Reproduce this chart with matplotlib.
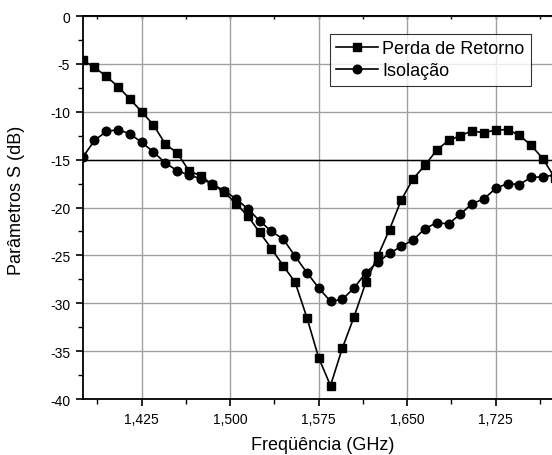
import numpy as np
import matplotlib
matplotlib.use('Agg')
import matplotlib.pyplot as plt
from matplotlib.ticker import MultipleLocator, FuncFormatter

plt.rcParams['font.family'] = ['Liberation Sans', 'DejaVu Sans']
plt.rcParams['axes.unicode_minus'] = False

# Frequency sweep (GHz), 10 MHz steps
freq = [1.375, 1.385, 1.395, 1.405, 1.415, 1.425, 1.435, 1.445, 1.455, 1.465,
        1.475, 1.485, 1.495, 1.505, 1.515, 1.525, 1.535, 1.545, 1.555, 1.565,
        1.575, 1.585, 1.595, 1.605, 1.615, 1.625, 1.635, 1.645, 1.655, 1.665,
        1.675, 1.685, 1.695, 1.705, 1.715, 1.725, 1.735, 1.745, 1.755, 1.765,
        1.775]

# Return loss (S11) in dB
perda = [-4.6, -5.36, -6.3, -7.38, -8.67, -10.0, -11.38, -13.37, -14.3, -16.15,
         -16.7, -17.6, -18.4, -19.6, -20.9, -22.6, -24.3, -26.1, -27.8, -31.5,
         -35.7, -38.6, -34.7, -31.4, -27.8, -25.1, -22.3, -19.2, -17.0, -15.6,
         -14.0, -13.0, -12.5, -12.0, -12.2, -11.9, -11.87, -12.45, -13.5, -14.9,
         -16.9]

# Isolation in dB
isolacao = [-14.76, -13.0, -12.05, -11.87, -12.3, -13.2, -14.2, -15.35, -16.15, -16.6,
            -17.0, -17.55, -18.25, -19.1, -20.15, -21.4, -22.5, -23.3, -25.1, -26.8,
            -28.4, -29.8, -29.6, -28.4, -26.8, -25.7, -24.8, -24.05, -23.4, -22.2,
            -21.6, -21.7, -20.7, -19.6, -19.1, -18.0, -17.5, -17.6, -16.85, -16.8,
            -16.6]

ref_level = -15

fig = plt.figure(figsize=(5.52, 4.56), dpi=100)
ax = fig.add_axes([0.1498, 0.1228, 0.8502, 0.8399])

ax.plot(freq, perda, color='black', lw=1.2, marker='s', markersize=5.6,
        label='Perda de Retorno', zorder=3)
ax.plot(freq, isolacao, color='black', lw=1.2, marker='o', markersize=6.2,
        label='Isolação', zorder=3)
ax.axhline(ref_level, color='black', lw=1.0, zorder=2)

ax.set_xlim(1.375, 1.7727)
ax.set_ylim(-40, 0)

ax.xaxis.set_major_locator(MultipleLocator(0.075))
ax.xaxis.set_minor_locator(MultipleLocator(0.0375))
ax.yaxis.set_major_locator(MultipleLocator(5))
ax.yaxis.set_minor_locator(MultipleLocator(2.5))
ax.xaxis.set_major_formatter(FuncFormatter(lambda v, p: ('%.3f' % v).replace('.', ',')))
ax.yaxis.set_major_formatter(FuncFormatter(lambda v, p: '%d' % v))

ax.grid(True, which='major', color='#a0a0a0', lw=1.0, zorder=1)
ax.set_axisbelow(True)

ax.tick_params(which='major', direction='out', length=5, width=1.2, labelsize=10,
               colors='black', pad=4)
ax.tick_params(which='minor', direction='out', length=3.5, width=1.0)

# small inward ticks along the top edge
top = ax.secondary_xaxis('top')
top.xaxis.set_major_locator(MultipleLocator(0.075))
top.xaxis.set_minor_locator(MultipleLocator(0.0375))
top.tick_params(which='both', direction='in', length=2.5, width=1.0, labeltop=False)
top.spines['top'].set_linewidth(1.3)

ax.spines['right'].set_visible(False)
for s in ['left', 'bottom', 'top']:
    ax.spines[s].set_linewidth(1.3)

ax.set_xlabel('Freqüência (GHz)', fontsize=13)
ax.xaxis.set_label_coords(0.511, -0.0966)
ax.xaxis.label.set_va('top')
ax.set_ylabel('Parâmetros S (dB)', fontsize=13)
ax.yaxis.set_label_coords(-0.122, 0.522)

leg = ax.legend(loc='upper right', bbox_to_anchor=(0.9546, 0.953), fontsize=13,
                frameon=True, fancybox=False, handlelength=2.3, handletextpad=0.25,
                borderpad=0.35, labelspacing=0.28, borderaxespad=0)
leg.get_frame().set_edgecolor('black')
leg.get_frame().set_linewidth(0.8)

fig.savefig('out.png', dpi=100)
